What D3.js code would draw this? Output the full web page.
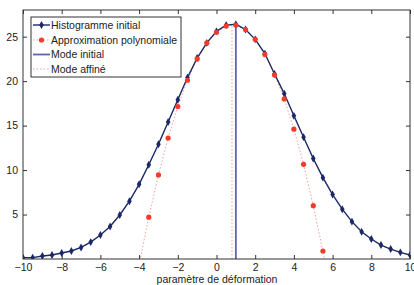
<!DOCTYPE html>
<html>
<head>
<meta charset="utf-8">
<script src="https://cdn.jsdelivr.net/npm/d3@7"></script>
<style>
  body { margin: 0; background: #fff; }
  svg { display: block; font-family: "Liberation Sans", Arial, sans-serif; }
</style>
</head>
<body>
<svg id="chart" width="414" height="285"></svg>
<script>
// histogramme initial (pas de 0.5)
var histX = [-10,-9.5,-9,-8.5,-8,-7.5,-7,-6.5,-6,-5.5,-5,-4.5,-4,-3.5,-3,-2.5,-2,-1.5,-1,-0.5,
             0,0.5,1,1.5,2,2.5,3,3.5,4,4.5,5,5.5,6,6.5,7,7.5,8,8.5,9,9.5,10];
var histY = [0.15,0.15,0.34,0.45,0.67,0.9,1.3,1.9,2.7,3.65,4.95,6.5,8.4,10.6,12.9,15.4,17.9,20.4,22.6,24.3,
             25.6,26.3,26.4,25.8,24.7,23.1,20.8,18.6,16.1,13.7,11.3,9.15,7.25,5.6,4.2,3.07,2.25,1.57,1.12,0.75,0.45];

// approximation polynomiale
var approxX = [-4,-3.5,-3,-2.5,-2,-1.5,-1,-0.5,0,0.5,1,1.5,2,2.5,3,3.5,4,4.5,5,5.5,6];
var approxY = [-0.6,4.7,9.45,13.6,17.15,20.1,22.5,24.3,25.5,26.2,26.3,25.8,24.7,23.0,20.7,18.0,14.6,10.65,6.0,0.9,-4.8];

var modeInitial = 1.0;
var modeAffine = 0.8;
var modeTop = 26.4;

var xTicks = [-10,-8,-6,-4,-2,0,2,4,6,8,10];
var yTicks = [5,10,15,20,25];

var legendLabels = ["Histogramme initial", "Approximation polynomiale", "Mode initial", "Mode affiné"];

var blue = "#1c2766", red = "#f23b2a", pink = "#f5a0a0", modeBlue = "#5d66a8";

var svg = d3.select("#chart");
var x = d3.scaleLinear().domain([-10, 10]).range([23, 410]);
var y = d3.scaleLinear().domain([0, 28]).range([259, 10]);

svg.append("defs").append("clipPath").attr("id", "clip")
  .append("rect").attr("x", 23).attr("y", 10).attr("width", 387).attr("height", 249);

var plot = svg.append("g").attr("clip-path", "url(#clip)");

var hist = histX.map(function(d, i){ return [d, histY[i]]; });
var approx = approxX.map(function(d, i){ return [d, approxY[i]]; });

var line = d3.line().x(function(d){ return x(d[0]); }).y(function(d){ return y(d[1]); });

// courbe approx (pointillé)
plot.append("path").attr("d", line(approx))
  .attr("fill", "none").attr("stroke", pink).attr("stroke-width", 1)
  .attr("stroke-dasharray", "1.5,2");

// modes
plot.append("line")
  .attr("x1", x(modeInitial)).attr("x2", x(modeInitial))
  .attr("y1", y(0)).attr("y2", y(modeTop))
  .attr("stroke", modeBlue).attr("stroke-width", 1.8);
plot.append("line")
  .attr("x1", x(modeAffine)).attr("x2", x(modeAffine))
  .attr("y1", y(0)).attr("y2", y(modeTop))
  .attr("stroke", pink).attr("stroke-width", 1).attr("stroke-dasharray", "1.5,2");

// histogramme
plot.append("path").attr("d", line(hist))
  .attr("fill", "none").attr("stroke", blue).attr("stroke-width", 1.4);

var diamond = d3.symbol().type(d3.symbolDiamond).size(18);
plot.selectAll(".hm").data(hist).enter()
  .append("path").attr("class", "hm")
  .attr("d", diamond)
  .attr("transform", function(d){ return "translate(" + x(d[0]) + "," + y(d[1]) + ")"; })
  .attr("fill", blue);

plot.selectAll(".am").data(approx).enter()
  .append("circle").attr("class", "am")
  .attr("cx", function(d){ return x(d[0]); })
  .attr("cy", function(d){ return y(d[1]); })
  .attr("r", 2.6)
  .attr("fill", red);

// axes (style boite matlab, ticks vers l'interieur)
var axisCol = "#333";
svg.append("rect").attr("x", 23).attr("y", 10).attr("width", 387).attr("height", 249)
  .attr("fill", "none").attr("stroke", axisCol).attr("stroke-width", 1);

var gx = svg.append("g").attr("transform", "translate(0,259)")
  .call(d3.axisBottom(x).tickValues(xTicks).tickSize(-4).tickPadding(4.5).tickFormat(function(d){ return d < 0 ? "\u2212" + Math.abs(d) : d; }));
var gxt = svg.append("g").attr("transform", "translate(0,10)")
  .call(d3.axisTop(x).tickValues(xTicks).tickSize(-4).tickFormat(""));
var gy = svg.append("g").attr("transform", "translate(23,0)")
  .call(d3.axisLeft(y).tickValues(yTicks).tickSize(-4).tickPadding(5));
var gyr = svg.append("g").attr("transform", "translate(410,0)")
  .call(d3.axisRight(y).tickValues(yTicks).tickSize(-4).tickFormat(""));

[gx, gxt, gy, gyr].forEach(function(g){
  g.select(".domain").remove();
  g.selectAll(".tick line").attr("stroke", axisCol);
  g.selectAll(".tick text").attr("fill", "#222").style("font-size", "10.5px")
    .style("font-family", "'Liberation Sans', Arial, sans-serif");
});

svg.append("text").attr("x", 217).attr("y", 282.5).attr("text-anchor", "middle")
  .attr("fill", "#222").style("font-size", "10.5px")
  .text("paramètre de déformation");

// legende
var leg = svg.append("g");
leg.append("rect").attr("x", 31).attr("y", 17).attr("width", 150).attr("height", 60)
  .attr("fill", "#fff").attr("stroke", axisCol).attr("stroke-width", 1);

var rowY = [25, 40, 54.5, 69];
leg.selectAll("text").data(legendLabels).enter()
  .append("text")
  .attr("x", 51).attr("y", function(d, i){ return rowY[i] + 3.8; })
  .attr("fill", "#222").style("font-size", "10.5px")
  .text(function(d){ return d; });

leg.append("line").attr("x1", 33).attr("x2", 50).attr("y1", rowY[0]).attr("y2", rowY[0])
  .attr("stroke", blue).attr("stroke-width", 1.4);
leg.append("path").attr("d", diamond).attr("fill", blue)
  .attr("transform", "translate(41.5," + rowY[0] + ")");

leg.append("line").attr("x1", 33).attr("x2", 50).attr("y1", rowY[1]).attr("y2", rowY[1])
  .attr("stroke", pink).attr("stroke-width", 1).attr("stroke-dasharray", "1.5,2");
leg.append("circle").attr("cx", 41.5).attr("cy", rowY[1]).attr("r", 2.6).attr("fill", red);

leg.append("line").attr("x1", 33).attr("x2", 50).attr("y1", rowY[2]).attr("y2", rowY[2])
  .attr("stroke", modeBlue).attr("stroke-width", 1.8);

leg.append("line").attr("x1", 33).attr("x2", 50).attr("y1", rowY[3]).attr("y2", rowY[3])
  .attr("stroke", pink).attr("stroke-width", 1).attr("stroke-dasharray", "1.5,2");
</script>
</body>
</html>
